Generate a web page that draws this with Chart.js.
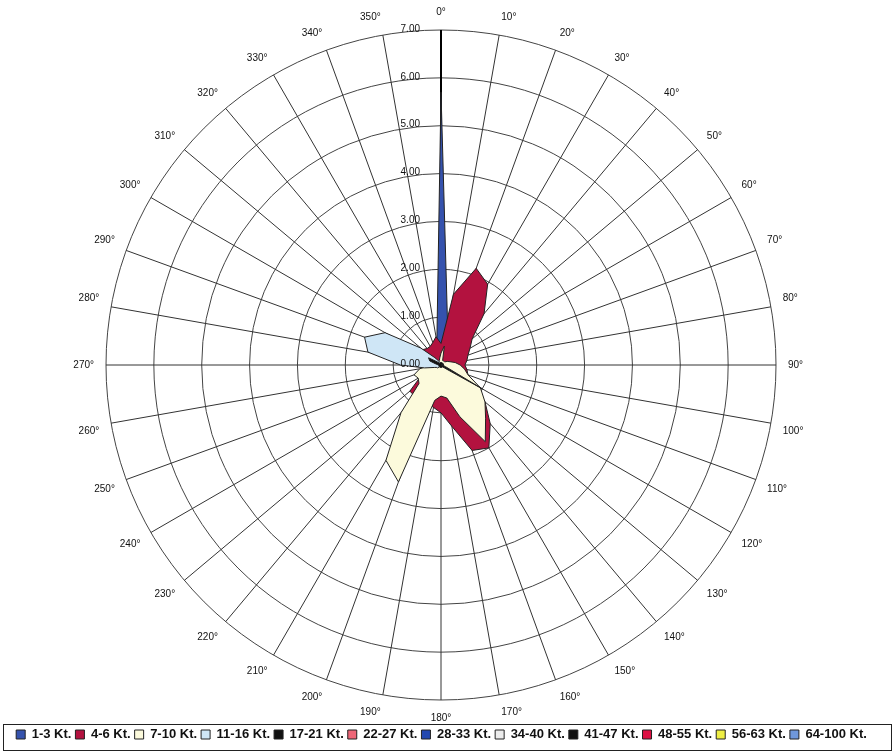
<!DOCTYPE html>
<html lang="en">
<head>
<meta charset="UTF-8">
<title>Wind Rose</title>
<script src="https://cdn.jsdelivr.net/npm/chart.js"></script>
<style>
    html, body { margin: 0; padding: 0; background: #fff; }
    #wrap { width: 895px; height: 751px; position: relative; }
</style>
</head>
<body>
<div id="wrap"><canvas id="rose"></canvas></div>
<script>
// directions (point labels) and radial tick labels
const directions = ['0°', '10°', '20°', '30°', '40°', '50°', '60°', '70°', '80°', '90°',
    '100°', '110°', '120°', '130°', '140°', '150°', '160°', '170°', '180°', '190°',
    '200°', '210°', '220°', '230°', '240°', '250°', '260°', '270°', '280°', '290°',
    '300°', '310°', '320°', '330°', '340°', '350°'];
const radialTicks = ['0.00', '1.00', '2.00', '3.00', '4.00', '5.00', '6.00', '7.00'];

const seriesNames = ['1-3 Kt.', '4-6 Kt.', '7-10 Kt.', '11-16 Kt.', '17-21 Kt.', '22-27 Kt.',
    '28-33 Kt.', '34-40 Kt.', '41-47 Kt.', '48-55 Kt.', '56-63 Kt.', '64-100 Kt.'];

// values per direction, 0° .. 350°
const kt1_3 = [5.70, 0.80, 0.20, 0.15, 0.15, 0.15, 0.15, 0.15, 0.15, 0.15, 0.15, 0.15,
    0.15, 0.15, 0.15, 0.15, 0.15, 0.15, 0.15, 0.15, 0.15, 0.15, 0.15, 0.15,
    0.15, 0.15, 0.15, 0.15, 0.15, 0.15, 0.15, 0.15, 0.15, 0.15, 0.20, 0.50];
const kt4_6 = [0.45, 1.50, 2.15, 1.95, 1.40, 0.85, 0.70, 0.60, 0.55, 0.50, 0.55, 0.60,
    0.80, 1.20, 1.60, 2.00, 1.90, 1.30, 1.00, 0.90, 0.85, 0.90, 0.85, 0.85,
    0.50, 0.35, 0.30, 0.30, 0.35, 0.40, 0.50, 0.50, 0.45, 0.45, 0.50, 0.60];
const kt7_10 = [0.25, 0.40, 0.10, 0.10, 0.10, 0.10, 0.15, 0.20, 0.30, 0.40, 0.50, 0.60,
    0.95, 1.20, 1.45, 1.85, 1.15, 0.70, 0.65, 0.75, 2.60, 2.30, 1.30, 0.60,
    0.55, 0.60, 0.45, 0.20, 0.20, 0.15, 0.15, 0.10, 0.10, 0.10, 0.10, 0.15];
const kt11_16 = [0.05, 0.05, 0.05, 0.05, 0.05, 0.05, 0.05, 0.05, 0.05, 0.05, 0.05, 0.05,
    0.05, 0.05, 0.05, 0.05, 0.05, 0.05, 0.05, 0.05, 0.05, 0.05, 0.05, 0.10,
    0.10, 0.15, 0.35, 0.85, 1.55, 1.70, 1.35, 0.55, 0.20, 0.10, 0.05, 0.05];
const kt17_21 = [0.05, 0.05, 0.05, 0.05, 0.05, 0.05, 0.05, 0.05, 0.05, 0.05, 0.05, 0.10,
    1.00, 0.10, 0.05, 0.05, 0.05, 0.05, 0.05, 0.05, 0.05, 0.05, 0.05, 0.05,
    0.05, 0.05, 0.05, 0.05, 0.10, 0.25, 0.30, 0.10, 0.05, 0.05, 0.05, 0.05];
const kt22_27 = [0, 0, 0, 0, 0, 0, 0, 0, 0, 0.05, 0, 0, 0, 0, 0, 0, 0, 0,
    0, 0, 0, 0, 0, 0, 0, 0, 0, 0, 0, 0, 0, 0, 0, 0, 0, 0];
const kt28_33 = [0, 0, 0, 0, 0, 0, 0, 0, 0, 0, 0, 0, 0, 0, 0, 0, 0, 0,
    0, 0, 0, 0, 0, 0, 0, 0, 0, 0, 0, 0, 0, 0, 0, 0, 0, 0];
const kt34_40 = [0, 0, 0, 0, 0, 0, 0, 0, 0, 0, 0, 0, 0, 0, 0, 0, 0, 0,
    0, 0, 0, 0, 0, 0, 0, 0, 0, 0, 0, 0, 0, 0, 0, 0, 0, 0];
const kt41_47 = [0, 0, 0, 0, 0, 0, 0, 0, 0, 0, 0, 0, 0, 0, 0, 0, 0, 0,
    0, 0, 0, 0, 0, 0, 0, 0, 0, 0, 0, 0, 0, 0, 0, 0, 0, 0];
const kt48_55 = [0, 0, 0, 0, 0, 0, 0, 0, 0, 0, 0, 0, 0, 0, 0, 0, 0, 0,
    0, 0, 0, 0, 0, 0, 0, 0, 0, 0, 0, 0, 0, 0, 0, 0, 0, 0];
const kt56_63 = [0, 0, 0, 0, 0, 0, 0, 0, 0, 0, 0, 0, 0, 0, 0, 0, 0, 0,
    0, 0, 0, 0, 0, 0, 0, 0, 0, 0, 0, 0, 0, 0, 0, 0, 0, 0];
const kt64_100 = [0, 0, 0, 0, 0, 0, 0, 0, 0, 0, 0, 0, 0, 0, 0, 0, 0, 0,
    0, 0, 0, 0, 0, 0, 0, 0, 0, 0, 0, 0, 0, 0, 0, 0, 0, 0];

const seriesValues = [kt1_3, kt4_6, kt7_10, kt11_16, kt17_21, kt22_27,
    kt28_33, kt34_40, kt41_47, kt48_55, kt56_63, kt64_100];
const seriesColors = ['#3552ad', '#b3123f', '#fcfadc', '#cfe6f6', '#111111', '#ee6677',
    '#2448b0', '#ececec', '#111111', '#dd1144', '#eeee44', '#6f98dc'];

// later series are painted over earlier ones, like the original
const datasets = seriesNames.map((name, i) => ({
    label: name,
    data: seriesValues[i],
    backgroundColor: seriesColors[i],
    borderColor: '#222',
    borderWidth: 1,
    pointRadius: 0,
    fill: 'origin',
    order: seriesNames.length - i
}));

// radial value labels sit just left of the 0° axis
const tickLabelPlugin = {
    id: 'tickLabels',
    afterDatasetsDraw(chart) {
        const r = chart.scales.r;
        const ctx = chart.ctx;
        ctx.save();
        ctx.font = '10px "Liberation Sans", Arial, sans-serif';
        ctx.fillStyle = '#111';
        ctx.textAlign = 'right';
        ctx.textBaseline = 'bottom';
        radialTicks.forEach((t, i) => {
            const y = r.yCenter - r.getDistanceFromCenterForValue(i);
            ctx.fillText(t, r.xCenter - 21, y + 4);
        });
        ctx.restore();
    }
};

// frame around the legend
const legendFramePlugin = {
    id: 'legendFrame',
    afterDraw(chart) {
        const lg = chart.legend;
        const ctx = chart.ctx;
        ctx.save();
        ctx.strokeStyle = '#222';
        ctx.lineWidth = 1;
        ctx.strokeRect(3.5, lg.top + 0.5, chart.width - 7, lg.height - 1);
        ctx.restore();
    }
};

new Chart(document.getElementById('rose'), {
    type: 'radar',
    data: { labels: directions, datasets: datasets },
    options: {
        responsive: true,
        maintainAspectRatio: false,
        animation: false,
        layout: { padding: { left: 0, right: 12, top: 6, bottom: 0 } },
        elements: { line: { tension: 0 } },
        scales: {
            r: {
                min: 0,
                max: 7,
                ticks: { stepSize: 1, display: false },
                grid: { circular: true, color: '#444', lineWidth: 1 },
                angleLines: {
                    color: ctx => ctx.index === 0 ? '#000' : '#333',
                    lineWidth: ctx => ctx.index === 0 ? 2 : 1
                },
                pointLabels: {
                    padding: 12,
                    color: '#111',
                    font: { family: '"Liberation Sans", Arial, sans-serif', size: 10 }
                }
            }
        },
        plugins: {
            tooltip: { enabled: false },
            legend: {
                position: 'bottom',
                labels: {
                    boxWidth: 9,
                    boxHeight: 9,
                    padding: 4,
                    color: '#111',
                    font: { family: '"Liberation Sans", Arial, sans-serif', size: 13, weight: 'bold' },
                    sort: (a, b) => a.datasetIndex - b.datasetIndex
                }
            }
        }
    },
    plugins: [tickLabelPlugin, legendFramePlugin]
});
</script>
</body>
</html>
